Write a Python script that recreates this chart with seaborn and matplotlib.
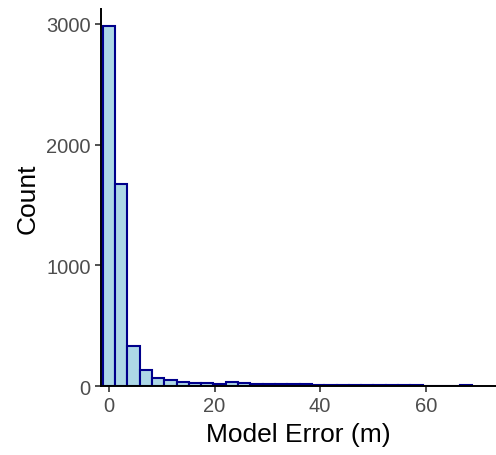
import pandas as pd
import matplotlib
matplotlib.use("Agg")
import matplotlib.pyplot as plt
import seaborn as sns

# histogram bins (model error in metres) and counts
bin_width = 2.33
bin_centers = [0.0, 2.33, 4.66, 6.99, 9.32, 11.65, 13.98, 16.31, 18.64, 20.97,
               23.3, 25.63, 27.96, 30.29, 32.62, 34.95, 37.28, 39.61, 41.94, 44.27,
               46.6, 48.93, 51.26, 53.59, 55.92, 58.25, 60.58, 62.91, 65.24, 67.57]
counts = [2981, 1676, 332, 134, 66, 49, 36, 29, 22, 20,
          34, 22, 19, 13, 18, 13, 18, 7, 6, 6,
          7, 5, 6, 5, 5, 6, 0, 0, 0, 6]
x_ticks = [0, 20, 40, 60]
y_ticks = [0, 1000, 2000, 3000]

sns.set_style("ticks")
plt.rcParams["font.family"] = ["Liberation Sans", "DejaVu Sans"]

df = pd.DataFrame({"error": bin_centers, "count": counts})

fig = plt.figure(figsize=(4.96, 4.56), dpi=100)
ax = fig.add_axes([0.2036, 0.1513, 0.7964, 0.8267])

edges = [c - bin_width / 2 for c in bin_centers] + [bin_centers[-1] + bin_width / 2]
sns.histplot(data=df, x="error", weights="count", bins=edges, ax=ax,
             color="#ADD8E6", edgecolor="#00008B", linewidth=1.5, alpha=1)

ax.set_xlim(-1.5, 73.3)
ax.set_ylim(0, 3124)
ax.set_xticks(x_ticks)
ax.set_yticks(y_ticks)
sns.despine(ax=ax)
for side in ["left", "bottom"]:
    ax.spines[side].set_linewidth(1.4)
    ax.spines[side].set_color("black")
ax.tick_params(axis="both", length=4.3, width=1.2, color="#333333",
               labelsize=14.5, labelcolor="#4D4D4D", pad=3)
ax.set_xlabel("Model Error (m)", fontsize=19, color="black", labelpad=5)
ax.set_ylabel("Count", fontsize=19, color="black", labelpad=5)

fig.savefig("out.png", dpi=100)
